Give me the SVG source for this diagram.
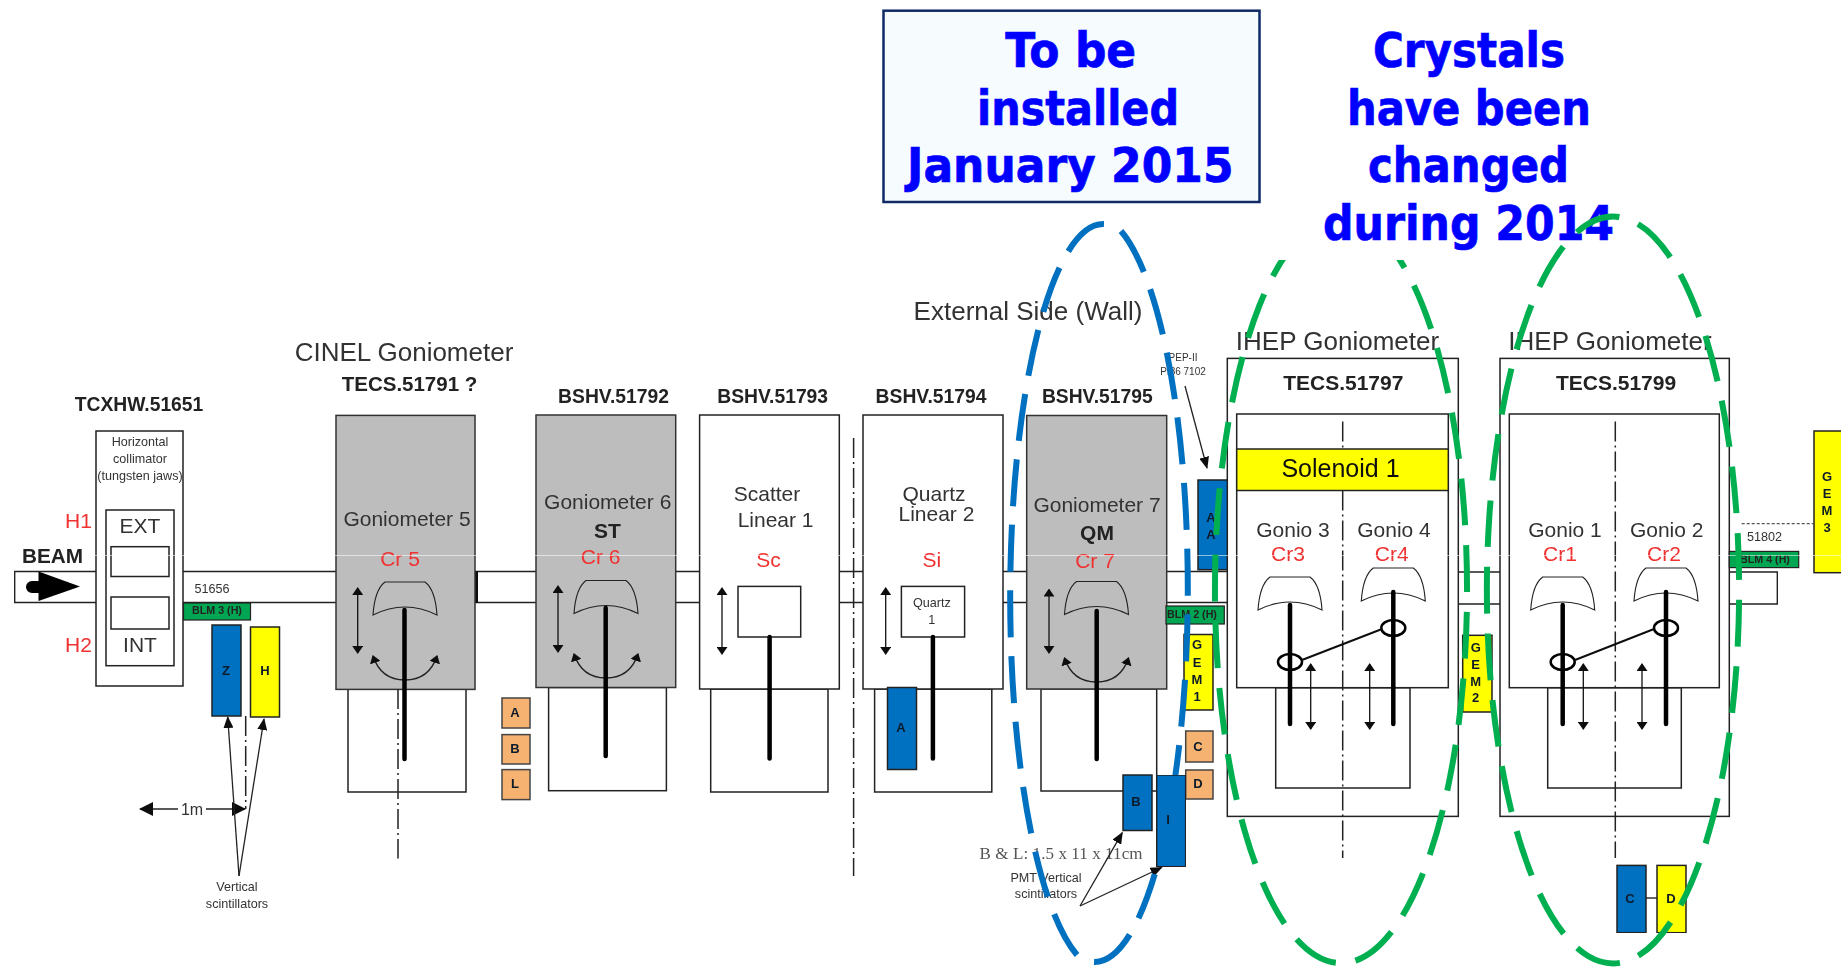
<svg xmlns="http://www.w3.org/2000/svg" width="1841" height="968" viewBox="0 0 1841 968">
<style>
text{font-family:"Liberation Sans",Arial,sans-serif;fill:#333;text-anchor:middle}
.b{font-weight:bold;fill:#222}
.h{font-size:19.3px}
.g{font-size:21px}
.r{font-size:21px;fill:#f03030}
.s{font-size:12.6px}
.l{font-size:13px;font-weight:bold;fill:#0b1a2a}
.big{font-family:"DejaVu Sans",Verdana,sans-serif;font-weight:bold;font-size:48px;fill:#0000ff;stroke:#0000ff;stroke-width:.7}
.t{font-size:26px}
.box{fill:#fff;stroke:#222;stroke-width:1.5}
.gray{fill:#bdbdbd;stroke:#333;stroke-width:1.5}
.blue{fill:#0070c0;stroke:#222;stroke-width:1.5}
.yel{fill:#ffff00;stroke:#222;stroke-width:1.5}
.or{fill:#f6b26f;stroke:#444;stroke-width:1.5}
.blm{fill:#00a651;stroke:#222;stroke-width:1.2}
.rod{stroke:#000;stroke-width:4.5;stroke-linecap:round;fill:none}
.ln{stroke:#222;stroke-width:1.4;fill:none}
.da{stroke:#222;stroke-width:1.5;fill:none;stroke-dasharray:20 4 2 4}
.dbl{stroke:#111;stroke-width:1.3;fill:none;marker-start:url(#ah);marker-end:url(#ah)}
.cry{fill:none;stroke:#222;stroke-width:1.1}
.cur{fill:none;stroke:#222;stroke-width:1.4;marker-start:url(#ah);marker-end:url(#ah)}
.arr{stroke:#222;stroke-width:1.3;fill:none;marker-end:url(#ah2)}
.ell{fill:none;stroke-width:6}
</style>
<defs>
<marker id="ah" markerUnits="userSpaceOnUse" markerWidth="8" markerHeight="11" refX="7" refY="5.5" orient="auto-start-reverse"><path d="M0,0L8,5.5L0,11Z" fill="#111"/></marker>
<marker id="ah2" markerUnits="userSpaceOnUse" markerWidth="12" markerHeight="10" refX="11" refY="5" orient="auto-start-reverse"><path d="M0,0L12,5L0,10Z" fill="#111"/></marker>
<marker id="ah3" markerUnits="userSpaceOnUse" markerWidth="14" markerHeight="14" refX="13" refY="7" orient="auto-start-reverse"><path d="M0,0L14,7L0,14Z" fill="#111"/></marker>
<path id="crystal" class="cry" d="M-32,33C-31,18-28,6-20,0L20,0C28,6 31,18 32,33C22,28 10,25 0,25C-10,25-22,28-32,33Z"/>
<path id="swing" class="cur" d="M-32,0C-26,18-14,24 0,24C14,24 26,18 32,0"/>
<filter id="soft" x="0" y="0" width="100%" height="100%" filterUnits="objectBoundingBox"><feGaussianBlur stdDeviation="0.45"/></filter>
</defs>
<rect width="1841" height="968" fill="#fff"/>

<g id="diagram" filter="url(#soft)">
<g id="beam-pipe">
<path class="ln" d="M96,571.5H14.7V602.5H96"/>
<path class="ln" d="M183,571.5H336M183,602.5H336M475,571.5H536M475,602.5H536M675,571.5H700M675,602.5H700M839,571.5H863M839,602.5H863M1003,571.5H1027M1003,602.5H1027M1166,571.5H1228M1166,602.5H1228M1458,572H1500M1458,604H1500"/>
<path d="M1729,572H1777.3V604H1729" class="ln"/>
<path d="M476.5,571V603" stroke="#111" stroke-width="3"/>
<path class="da" d="M853.6,438V876"/>
</g>

<g id="beam-label">
<text x="52.5" y="563" class="b" font-size="20" textLength="61" lengthAdjust="spacingAndGlyphs">BEAM</text>
<path d="M32,581H38.5V571.5L80,586.5L38.5,601V593H32A6,6 0 0 1 32,581Z" fill="#000"/>
</g>

<g id="collimator">
<rect class="box" x="96" y="431" width="87" height="255"/>
<rect class="box" x="106" y="510" width="68" height="155.7"/>
<rect class="box" x="111" y="546.7" width="58" height="29.8"/>
<rect class="box" x="111" y="597" width="58" height="32"/>
<text x="140" y="446" class="s">Horizontal</text>
<text x="140" y="463" class="s">collimator</text>
<text x="140" y="480" class="s">(tungsten jaws)</text>
<text x="140" y="533" class="g">EXT</text>
<text x="140" y="652" class="g">INT</text>
<text x="78.5" y="527.5" class="r">H1</text>
<text x="78.5" y="652" class="r">H2</text>
<text x="139" y="411" class="b h">TCXHW.51651</text>
</g>

<g id="blm3">
<text x="212" y="593" class="s">51656</text>
<rect class="blm" x="183.5" y="603" width="67" height="17"/>
<text x="217" y="614" class="b" font-size="10.7">BLM 3 (H)</text>
</g>
<g id="sc-z"><rect class="blue" x="212" y="625" width="29" height="91"/><text x="226" y="675" class="l">Z</text></g>
<g id="sc-h"><rect class="yel" x="250.5" y="627" width="29" height="90"/><text x="265" y="675" class="l">H</text></g>

<g id="gonio5">
<rect class="box" x="348" y="689" width="118" height="103"/>
<rect class="gray" x="336" y="415.4" width="139" height="274"/>
<path class="da" d="M398,689V858.5"/>
<use href="#crystal" x="405" y="582"/>
<use href="#swing" x="405" y="656"/>
<path class="dbl" d="M357.7,588V653"/>
<path class="rod" d="M404.5,610V759"/>
<text x="407" y="525.6" class="g">Goniometer 5</text>
<text x="400" y="566" class="r">Cr 5</text>
<text x="404" y="361" class="t">CINEL Goniometer</text>
<text x="409.5" y="390.5" class="b" font-size="20.5">TECS.51791 ?</text>
</g>

<g id="abl">
<rect class="or" x="502" y="698" width="28" height="30"/><text x="515" y="717" class="l">A</text>
<rect class="or" x="502" y="734.6" width="28" height="29.4"/><text x="515" y="753" class="l">B</text>
<rect class="or" x="502" y="769.6" width="28" height="30"/><text x="515" y="788" class="l">L</text>
</g>

<g id="gonio6">
<rect class="box" x="548.6" y="687.5" width="117.8" height="103.2"/>
<rect class="gray" x="536" y="415" width="139.7" height="272.5"/>
<use href="#crystal" x="606" y="580.5"/>
<use href="#swing" x="606" y="654"/>
<path class="dbl" d="M558,586V652"/>
<path class="rod" d="M605.7,608V756"/>
<text x="607.7" y="509" class="g">Goniometer 6</text>
<text x="607.5" y="537.5" class="b g">ST</text>
<text x="600.7" y="564" class="r">Cr 6</text>
<text x="613.5" y="402.5" class="b h">BSHV.51792</text>
</g>

<g id="linear1">
<rect class="box" x="710.7" y="689" width="117.3" height="103"/>
<rect class="box" x="699.6" y="415" width="139.7" height="274"/>
<rect class="box" x="738" y="586.4" width="62.7" height="50.6"/>
<path class="dbl" d="M722,588V654"/>
<path class="rod" d="M769.6,637V758.6"/>
<text x="767" y="500.7" class="g">Scatter</text>
<text x="775.6" y="526.8" class="g">Linear 1</text>
<text x="768.6" y="567" class="r">Sc</text>
<text x="772.7" y="402.5" class="b h">BSHV.51793</text>
</g>

<g id="linear2">
<rect class="box" x="874.6" y="689" width="117.2" height="103"/>
<rect class="box" x="863" y="415" width="140" height="274"/>
<rect class="box" x="901.4" y="586.4" width="63.2" height="50.6"/>
<path class="dbl" d="M885.7,588V654"/>
<path class="rod" d="M932.9,637V758.6"/>
<text x="934" y="500.7" class="g">Quartz</text>
<text x="936.4" y="521.4" class="g">Linear 2</text>
<text x="931.8" y="567" class="r">Si</text>
<text x="931.8" y="607" class="s">Quartz</text>
<text x="931.8" y="624" class="s">1</text>
<text x="931" y="402.5" class="b h">BSHV.51794</text>
</g>
<g id="sc-a"><rect class="blue" x="887.5" y="687.5" width="29" height="82"/><text x="901" y="732" class="l">A</text></g>

<g id="gonio7">
<rect class="box" x="1041" y="689" width="115.7" height="102"/>
<rect class="gray" x="1026.7" y="415.5" width="140" height="273.5"/>
<use href="#crystal" x="1096.5" y="581.5"/>
<use href="#swing" x="1096.5" y="658"/>
<path class="dbl" d="M1049,589.5V653"/>
<path class="rod" d="M1096.7,611V759"/>
<text x="1097" y="511.8" class="g">Goniometer 7</text>
<text x="1097" y="539.5" class="b g">QM</text>
<text x="1095" y="567.6" class="r">Cr 7</text>
<text x="1097.3" y="403" class="b h">BSHV.51795</text>
<text x="1028" y="320" class="t">External Side (Wall)</text>
</g>

<g id="sc-aa"><rect class="blue" x="1198" y="480" width="30" height="89.7"/><text x="1211" y="521.5" class="l">A</text><text x="1211" y="538.6" class="l">A</text></g>
<g id="pep"><text x="1183" y="360.5" font-size="10">PEP-II</text><text x="1183" y="375.4" font-size="10">PI86 7102</text></g>
<g id="blm2"><rect class="blm" x="1166" y="606" width="58.3" height="18"/><text x="1192" y="617.5" class="b" font-size="10.7">BLM 2 (H)</text></g>
<g id="gem1"><rect class="yel" x="1184" y="634.5" width="29" height="75.5"/>
<text x="1197" y="649.4" class="l">G</text><text x="1197" y="667" class="l">E</text><text x="1197" y="683.5" class="l">M</text><text x="1197" y="700.5" class="l">1</text></g>
<g id="or-c"><rect class="or" x="1185.7" y="731" width="27.3" height="31"/><text x="1198" y="751" class="l">C</text></g>
<g id="or-d"><rect class="or" x="1185.7" y="770" width="27.3" height="29"/><text x="1198" y="788" class="l">D</text></g>
<g id="sc-b"><rect class="blue" x="1123" y="775" width="29" height="55.5"/><text x="1136" y="806" class="l">B</text></g>
<g id="bl-note">
<text x="1061" y="859" font-size="17" style="font-family:'Liberation Serif',serif;fill:#555" textLength="163" lengthAdjust="spacing">B &amp; L: 1.5 x 11 x 11cm</text>
<text x="1046" y="881.6" class="s">PMT Vertical</text>
<text x="1046" y="897.8" class="s">scintillators</text>
</g>

<g id="ihep1">
<rect class="box" x="1227.3" y="358.4" width="231" height="458"/>
<rect class="box" x="1275.7" y="687.7" width="134.3" height="100.3"/>
<rect class="box" x="1236.7" y="414" width="211.6" height="273.7"/>
<rect class="yel" x="1236.7" y="449" width="211.6" height="41.5"/>
<path class="da" d="M1342.7,421.4V449M1342.7,490.5V858"/>
<text x="1340.5" y="477" font-size="25" style="fill:#111">Solenoid 1</text>
<text x="1337.5" y="350" class="t">IHEP Goniometer</text>
<text x="1343.3" y="390" class="b" font-size="21">TECS.51797</text>
<text x="1293" y="537" class="g">Gonio 3</text>
<text x="1394" y="537" class="g">Gonio 4</text>
<text x="1288" y="561" class="r">Cr3</text>
<text x="1391.7" y="561" class="r">Cr4</text>
<use href="#crystal" x="1290" y="577"/>
<use href="#crystal" x="1393.3" y="568"/>
<path class="rod" d="M1290,605V724M1393.3,592V724"/>
<ellipse class="rod" style="stroke-width:2.5" cx="1290" cy="662" rx="12" ry="8"/>
<ellipse class="rod" style="stroke-width:2.5" cx="1393.3" cy="628" rx="12" ry="8"/>
<path d="M1302,660L1382,629" stroke="#111" stroke-width="2" fill="none"/>
<path class="dbl" d="M1310.7,664V729"/>
<path class="dbl" d="M1369.7,664V729"/>
</g>

<g id="gem2"><rect class="yel" x="1462.7" y="635.3" width="29.3" height="76.7"/>
<text x="1475.7" y="652" class="l">G</text><text x="1475.7" y="669" class="l">E</text><text x="1475.7" y="685.5" class="l">M</text><text x="1475.7" y="701.8" class="l">2</text></g>

<g id="ihep2">
<rect class="box" x="1500" y="358.4" width="229.3" height="458"/>
<rect class="box" x="1547.7" y="687.7" width="133.6" height="100.3"/>
<rect class="box" x="1509.3" y="414" width="210" height="273.7"/>
<path class="da" d="M1615.3,421.4V858"/>
<text x="1610" y="350" class="t">IHEP Goniometer</text>
<text x="1616" y="390" class="b" font-size="21">TECS.51799</text>
<text x="1565" y="537" class="g">Gonio 1</text>
<text x="1666.7" y="537" class="g">Gonio 2</text>
<text x="1560" y="561" class="r">Cr1</text>
<text x="1664" y="561" class="r">Cr2</text>
<use href="#crystal" x="1562.7" y="577"/>
<use href="#crystal" x="1666" y="568"/>
<path class="rod" d="M1562.7,605V724M1666,592V724"/>
<ellipse class="rod" style="stroke-width:2.5" cx="1562.7" cy="662" rx="12" ry="8"/>
<ellipse class="rod" style="stroke-width:2.5" cx="1666" cy="628" rx="12" ry="8"/>
<path d="M1575,660L1654,629" stroke="#111" stroke-width="2" fill="none"/>
<path class="dbl" d="M1583.3,664V729"/>
<path class="dbl" d="M1642,664V729"/>
</g>

<g id="blm4"><rect class="blm" x="1729.3" y="551.4" width="69.4" height="16.2"/><text x="1765" y="562.5" class="b" font-size="10.7">BLM 4 (H)</text>
<text x="1764.5" y="540.7" class="s">51802</text></g>
<g id="gem3"><rect class="yel" x="1814" y="431" width="30" height="141.7"/>
<text x="1827" y="481" class="l">G</text><text x="1827" y="498" class="l">E</text><text x="1827" y="514.5" class="l">M</text><text x="1827" y="532" class="l">3</text></g>
<g id="sc-c"><rect class="blue" x="1617" y="865.4" width="29" height="67.3"/><text x="1630" y="903" class="l">C</text></g>
<g id="sc-d"><rect class="yel" x="1657" y="865.4" width="29" height="67.3"/><text x="1671" y="903" class="l">D</text></g>

<g id="connectors">
<path class="da" d="M245.7,716V809"/>
<path d="M140,809H178" stroke="#222" stroke-width="1.4" fill="none" marker-start="url(#ah3)"/>
<path d="M206,809H245" stroke="#222" stroke-width="1.4" fill="none" marker-end="url(#ah3)"/>
<text x="192" y="815" font-size="16">1m</text>
<path class="arr" d="M239,876L227.7,717"/>
<path class="arr" d="M239,876L264,719"/>
<text x="237" y="891" class="s">Vertical</text>
<text x="237" y="908" class="s">scintillators</text>
<path class="arr" d="M1185,386L1207,468"/>
<path class="arr" d="M1080,906L1122.3,832.6"/>
<path class="arr" d="M1080,906L1161.7,867.5"/>
<path d="M1741.7,523.7H1814" stroke="#555" stroke-width="1.2" stroke-dasharray="3 2"/>
<path class="ln" d="M1646,898H1657"/>
</g>
</g>

<path id="scan-line" d="M90,555.5H1841" stroke="#fff" stroke-width="0.8" opacity="0.7"/>

<path id="ellipse-green-1" class="ell" stroke="#00b050" pathLength="1675" stroke-dasharray="47 20" d="M1437,348A126,373 0 0 1 1245,832A126,373 0 0 1 1437,348"/>

<g id="note-crystals">
<rect x="1270" y="8" width="345" height="252" fill="#fff"/>
<text x="1469" y="66.7" class="big" textLength="192" lengthAdjust="spacingAndGlyphs">Crystals</text>
<text x="1469" y="124.5" class="big" textLength="244" lengthAdjust="spacingAndGlyphs">have been</text>
<text x="1468.5" y="181.7" class="big" textLength="201" lengthAdjust="spacingAndGlyphs">changed</text>
<text x="1468.5" y="240" class="big" textLength="291" lengthAdjust="spacingAndGlyphs">during 2014</text>
</g>

<g id="note-january">
<rect x="883.5" y="10.7" width="376" height="191.3" fill="#f6fbfd" stroke="#0f2a66" stroke-width="2.5"/>
<text x="1070.7" y="66.7" class="big" textLength="131" lengthAdjust="spacingAndGlyphs">To be</text>
<text x="1078" y="124.5" class="big" textLength="202" lengthAdjust="spacingAndGlyphs">installed</text>
<text x="1070.3" y="181.7" class="big" textLength="326.5" lengthAdjust="spacingAndGlyphs">January 2015</text>
</g>

<path id="ellipse-blue" class="ell" stroke="#0070c0" pathLength="1608" stroke-dasharray="48 19" d="M1121,231A93,373 0 0 1 1077,955A93,373 0 0 1 1121,231"/>
<g id="sc-i" filter="url(#soft)"><rect class="blue" x="1156.7" y="775" width="29" height="91.7"/><text x="1168" y="824" class="l">I</text></g>
<path id="ellipse-green-2" class="ell" stroke="#00b050" pathLength="1675" stroke-dasharray="47 20" d="M1638,224A126,373 0 0 1 1588,956A126,373 0 0 1 1638,224"/>
</svg>
